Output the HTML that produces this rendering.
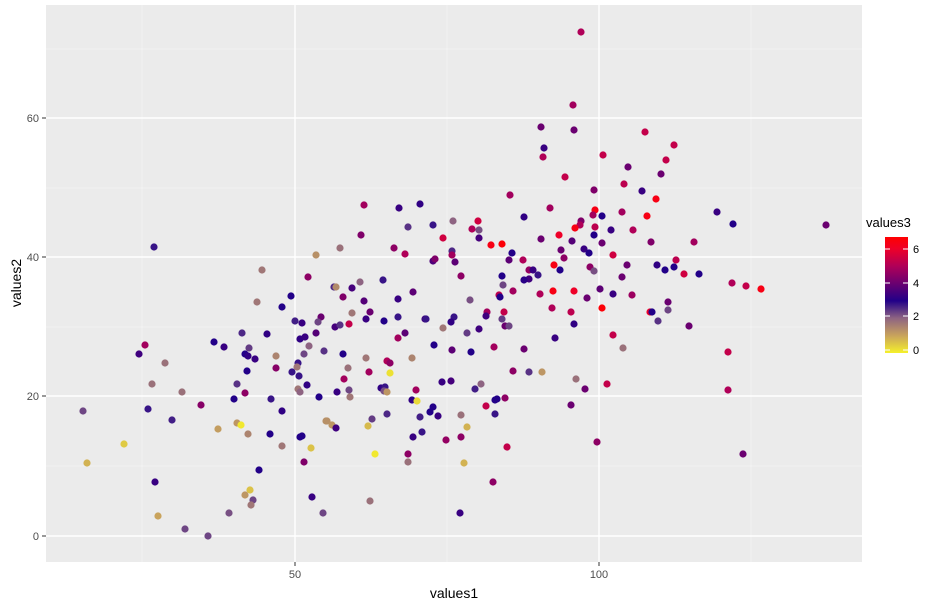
<!DOCTYPE html>
<html><head><meta charset="utf-8"><style>
body{margin:0;background:#fff;}
svg text{font-family:"Liberation Sans",sans-serif;}
</style></head><body>
<svg id="s" width="950" height="607" xmlns="http://www.w3.org/2000/svg">
<defs><linearGradient id="g" x1="0" y1="1" x2="0" y2="0">
<stop offset="0" stop-color="#f5f02a"/><stop offset="0.15" stop-color="#c9a35c"/><stop offset="0.3" stop-color="#8e6482"/><stop offset="0.45" stop-color="#220088"/><stop offset="0.6" stop-color="#6a0070"/><stop offset="0.75" stop-color="#b00058"/><stop offset="0.9" stop-color="#ee0028"/><stop offset="1" stop-color="#ff0000"/>
</linearGradient></defs>
<rect x="46" y="5" width="816" height="557" fill="#ebebeb"/>
<g stroke="#f5f5f5" stroke-width="0.7">
<line x1="142" y1="5" x2="142" y2="562"/><line x1="447" y1="5" x2="447" y2="562"/><line x1="751" y1="5" x2="751" y2="562"/>
<line x1="46" y1="49" x2="862" y2="49"/><line x1="46" y1="188" x2="862" y2="188"/><line x1="46" y1="327" x2="862" y2="327"/><line x1="46" y1="466" x2="862" y2="466"/>
</g>
<g stroke="#ffffff" stroke-width="1.4">
<line x1="295" y1="5" x2="295" y2="562"/><line x1="599" y1="5" x2="599" y2="562"/>
<line x1="46" y1="118" x2="862" y2="118"/><line x1="46" y1="257" x2="862" y2="257"/><line x1="46" y1="396" x2="862" y2="396"/><line x1="46" y1="536" x2="862" y2="536"/>
</g>
<g id="pts"></g>
<g stroke="#333" stroke-width="1">
<line x1="295" y1="562" x2="295" y2="566"/><line x1="599" y1="562" x2="599" y2="566"/>
<line x1="42" y1="118" x2="46" y2="118"/><line x1="42" y1="257" x2="46" y2="257"/><line x1="42" y1="396" x2="46" y2="396"/><line x1="42" y1="536" x2="46" y2="536"/>
</g>
<g fill="#4d4d4d" font-size="11">
<text x="295" y="578" text-anchor="middle">50</text><text x="599" y="578" text-anchor="middle">100</text>
<text x="39" y="122" text-anchor="end">60</text><text x="39" y="261" text-anchor="end">40</text><text x="39" y="400" text-anchor="end">20</text><text x="39" y="540" text-anchor="end">0</text>
</g>
<text x="454" y="598" font-size="14" text-anchor="middle" fill="#000">values1</text>
<text transform="translate(21,283) rotate(-90)" font-size="14" text-anchor="middle" fill="#000">values2</text>
<text x="866" y="227" font-size="13" fill="#000">values3</text>
<rect x="885" y="237" width="23" height="116" fill="url(#g)"/>
<g stroke="#fff" stroke-width="1">
<line x1="885" y1="249" x2="890" y2="249"/><line x1="903" y1="249" x2="908" y2="249"/>
<line x1="885" y1="283" x2="890" y2="283"/><line x1="903" y1="283" x2="908" y2="283"/>
<line x1="885" y1="316" x2="890" y2="316"/><line x1="903" y1="316" x2="908" y2="316"/>
<line x1="885" y1="350" x2="890" y2="350"/><line x1="903" y1="350" x2="908" y2="350"/>
</g>
<g font-size="11" fill="#000">
<text x="913" y="253">6</text><text x="913" y="287">4</text><text x="913" y="320">2</text><text x="913" y="354">0</text>
</g>
</svg>
<script>
var P=[[154,247,2.8],[316,255,1.3],[262,270,1.7],[308,277,4.5],[291,296,3],[257,302,1.7],[282,307,3],[295,321,2.7],[302,323,3.3],[321,317,4],[318,322,2.3],[242,333,2.6],[267,334,3.2],[316,333,3.7],[214,342,3],[224,347,3.3],[145,345,4.8],[139,354,3.4],[249,348,2.4],[245,354,3],[248,356,3.2],[255,359,3.3],[276,356,1.5],[300,339,3.2],[305,337,3.3],[309,346,2],[304,354,2.3],[324,351,2.5],[165,363,1.8],[247,371,3],[276,368,4.4],[298,363,2.8],[297,367,1.7],[292,372,2.8],[299,376,2.8],[307,385,3.2],[152,384,1.8],[182,392,1.8],[237,384,2.5],[245,393,4.5],[234,399,3],[271,399,2.8],[298,389,1.7],[300,392,2],[319,397,3],[201,405,4.4],[83,411,2.3],[148,409,2.8],[282,411,3.2],[172,420,2.7],[237,423,1.2],[241,425,0.1],[218,429,1.1],[248,434,1.5],[270,434,3],[300,437,3],[302,436,3],[326,421,1.3],[124,444,0.5],[282,446,1.7],[311,448,0.6],[87,463,0.8],[304,462,4.3],[259,470,3],[155,482,3.3],[250,490,0.6],[245,495,1.2],[253,500,2.3],[251,505,1.7],[312,497,3.3],[323,513,2.3],[229,513,2.2],[158,516,1],[185,529,2.3],[208,536,2.3],
[510,195,4.8],[364,205,4.8],[399,208,3.3],[420,204,3.2],[453,221,2],[408,227,2.5],[433,225,2.8],[478,221,5.5],[472,229,5],[479,230,2.2],[479,238,3.5],[443,238,5.5],[491,245,6.3],[502,244,6.5],[361,235,4.3],[340,248,1.8],[394,248,4.5],[405,254,5],[452,251,2.6],[452,255,4.8],[433,261,3.6],[435,259,4.3],[455,262,3.8],[512,253,3],[509,260,3.8],[461,276,4.5],[502,276,3],[503,285,2.3],[383,280,2.8],[360,282,2],[334,287,2.6],[336,287,1.4],[352,288,3.5],[343,297,4.3],[413,292,3.8],[364,301,3.7],[398,299,3.3],[513,291,4.8],[499,295,5.2],[500,297,3],[470,300,2.2],[370,312,4],[352,313,1.7],[366,319,3.3],[384,321,3],[398,317,2.8],[425,319,3.4],[426,319,2.8],[349,324,5.3],[335,327,3.5],[340,325,2.5],[454,317,2.8],[451,322,3.2],[487,312,4.8],[486,316,3.4],[504,312,5.3],[502,319,2.4],[505,326,4],[509,326,2.3],[479,329,3.4],[443,328,1.7],[467,333,2.4],[405,333,3.8],[398,338,4.8],[434,345,3],[452,350,3.8],[471,352,3],[494,347,4.8],[343,354,3],[366,358,1.7],[412,358,1.5],[387,361,5],[390,363,4.5],[513,371,4.5],[348,368,1.8],[369,372,4.8],[390,373,0.2],[344,379,4.8],[337,392,3.3],[349,390,2.3],[350,397,1.7],[381,388,3.2],[385,387,2.8],[384,391,2.2],[387,392,1.2],[416,390,4.8],[442,382,3.3],[451,381,3.5],[475,389,2.7],[481,384,2],[495,400,3],[497,399,3],[505,398,4.5],[486,406,5.3],[495,414,2.8],[412,400,3.2],[417,401,0.3],[430,412,3],[433,407,3],[438,416,3.3],[420,417,2.7],[461,415,1.8],[387,414,2.6],[372,419,2.4],[327,421,1.3],[332,425,1.2],[336,428,3.4],[368,426,0.7],[467,427,0.8],[413,437,3.3],[422,432,2.8],[446,440,4.6],[461,437,4.5],[507,447,5.3],[375,454,0.1],[408,454,4.5],[408,462,1.8],[464,463,0.8],[493,482,4.5],[370,501,1.8],[460,513,3.3],
[581,32,5],[573,105,4.8],[541,127,4],[574,130,4],[645,132,5.3],[544,148,3.3],[543,157,5],[674,145,5.3],[603,155,5.3],[666,160,5.3],[628,167,4],[661,174,4],[565,177,5.3],[624,184,5.2],[594,190,4.3],[642,191,3.3],[656,199,6.3],[550,208,4.8],[524,217,3.2],[595,210,6.3],[593,215,4.8],[602,216,3],[622,212,4.8],[647,216,6.3],[717,212,3.3],[733,224,3],[826,225,4],[581,221,4.3],[580,225,5],[575,228,6.3],[595,227,5.2],[559,235,6],[633,230,5],[611,230,3.3],[594,235,3],[541,239,4],[572,241,3.7],[602,243,4],[651,242,4.3],[694,242,4.8],[561,250,4],[584,249,3.3],[589,253,3],[564,258,4.5],[613,255,5.5],[523,260,5],[554,265,6.3],[560,270,3],[590,267,4.5],[594,271,2.2],[627,265,4],[657,265,3.2],[665,270,3],[674,267,3],[676,260,5.2],[684,274,5.5],[699,274,3],[529,270,4.6],[533,270,3.3],[529,279,3.4],[524,280,3.1],[538,275,2.8],[622,277,4],[732,283,5],[746,286,5.3],[761,289,6.3],[540,294,5],[553,291,6.3],[574,291,6],[600,289,3.8],[613,294,3.3],[632,295,4.7],[587,298,4],[552,308,5],[571,312,5.2],[602,308,6.5],[650,312,6],[652,312,3],[668,302,4],[668,310,2.3],[658,321,2.5],[689,326,4],[574,324,3.2],[555,338,3.3],[613,335,5.3],[623,348,1.8],[728,352,5.3],[524,349,4],[529,372,2.5],[542,372,1.2],[576,379,1.8],[585,389,4],[607,384,5.3],[728,390,5],[571,405,4],[597,442,4.5],[743,454,4]];
var S=[[0,[245,240,42]],[1,[201,163,92]],[2,[142,100,130]],[3,[34,0,136]],[4,[106,0,112]],[5,[176,0,88]],[6,[238,0,40]],[6.6,[255,0,0]]];
function col(v){for(var i=0;i<S.length-1;i++){if(v<=S[i+1][0]){var t=(v-S[i][0])/(S[i+1][0]-S[i][0]);t=Math.max(0,Math.min(1,t));var a=S[i][1],b=S[i+1][1];return"rgb("+a.map(function(x,k){return Math.round(x+(b[k]-x)*t)}).join(",")+")";}}return"rgb(255,0,0)";}
var g=document.getElementById("pts"),h="";
P.forEach(function(p){h+='<circle cx="'+p[0]+'" cy="'+p[1]+'" r="3.6" fill="'+col(p[2])+'"/>';});
g.innerHTML=h;
</script>
</body></html>
